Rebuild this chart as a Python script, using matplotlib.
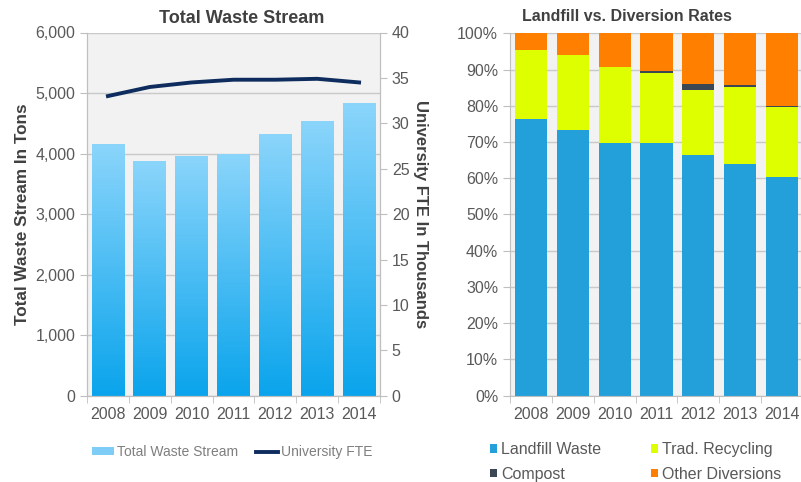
import matplotlib
matplotlib.use("Agg")
import matplotlib.pyplot as plt
import numpy as np
from matplotlib.patches import Patch
from matplotlib.lines import Line2D
from matplotlib.colors import LinearSegmentedColormap

plt.rcParams['font.family'] = ['Liberation Sans', 'DejaVu Sans']

years = ['2008', '2009', '2010', '2011', '2012', '2013', '2014']
waste_tons = [4160, 3880, 3965, 3990, 4320, 4545, 4835]
fte_thousands = [33.0, 34.0, 34.5, 34.8, 34.8, 34.9, 34.5]

landfill = [76.3, 73.3, 69.7, 69.7, 66.4, 63.8, 60.2]
recycling = [19.2, 20.8, 21.0, 19.4, 17.9, 21.3, 19.4]
compost = [0.0, 0.0, 0.1, 0.4, 1.6, 0.5, 0.4]
other = [round(100 - a - b - c, 1) for a, b, c in zip(landfill, recycling, compost)]

W, H = 801, 482
fig = plt.figure(figsize=(W / 100, H / 100), dpi=100)
fig.patch.set_facecolor('white')

TICK = '#595959'
TITLE = '#404040'
GRID = '#C9C9C9'
SPINE = '#BFBFBF'
BG = '#F2F2F2'
FS = 11.5

def px_axes(x0, y0, x1, y1):
    return fig.add_axes([x0 / W, 1 - y1 / H, (x1 - x0) / W, (y1 - y0) / H])

def style(ax):
    ax.set_facecolor(BG)
    ax.grid(axis='y', color=GRID, linewidth=1.0)
    ax.set_axisbelow(True)
    ax.spines['top'].set_visible(False)
    for s in ['left', 'right', 'bottom']:
        ax.spines[s].set_color(SPINE)
    x = np.arange(len(years))
    ax.set_xticks(x)
    ax.set_xticklabels(years)
    ax.set_xticks(np.arange(-0.5, len(years)), minor=True)
    ax.tick_params(axis='x', which='major', length=0, pad=8, labelsize=FS, colors=TICK)
    ax.tick_params(axis='x', which='minor', length=5, color=SPINE)
    ax.tick_params(axis='y', length=5, color=SPINE, labelsize=FS, labelcolor=TICK)
    ax.set_xlim(-0.5, len(years) - 0.5)

# ---------------- Left chart ----------------
ax1 = px_axes(87, 32.5, 380, 395.7)
style(ax1)
x = np.arange(len(years))
bars = ax1.bar(x, waste_tons, width=0.78, color='none', zorder=2)
cmap = LinearSegmentedColormap.from_list('g', ['#0AA4EC', '#8BD5FB'])
grad = np.linspace(0, 1, 256).reshape(-1, 1)
for b in bars:
    bx, by = b.get_x(), b.get_y()
    im = ax1.imshow(grad, extent=[bx, bx + b.get_width(), by, by + b.get_height()],
                    origin='lower', aspect='auto', cmap=cmap, zorder=2)
    im.set_clip_path(b)
ax1.set_xlim(-0.5, len(years) - 0.5)
ax1.set_ylim(0, 6000)
ax1.set_yticks(np.arange(0, 6001, 1000))
ax1.set_yticklabels([f'{v:,}' for v in range(0, 6001, 1000)])
ax1.set_title('Total Waste Stream', fontsize=13, fontweight='bold', color=TITLE, pad=7,
              x=(242 - 87) / (380 - 87))
ax1.set_ylabel('Total Waste Stream In Tons', fontsize=12.3, fontweight='bold', color=TITLE, labelpad=4)

ax1b = ax1.twinx()
ax1b.plot(x, fte_thousands, color='#0E2D5E', linewidth=2.8, zorder=5)
ax1b.set_ylim(0, 40)
ax1b.set_yticks(np.arange(0, 41, 5))
ax1b.tick_params(axis='y', length=5, color=SPINE, labelsize=FS, labelcolor=TICK)
ax1b.spines['top'].set_visible(False)
for s in ['left', 'right', 'bottom']:
    ax1b.spines[s].set_color(SPINE)
ax1b.set_ylabel('University FTE In Thousands', fontsize=12, fontweight='bold', color=TITLE,
                rotation=-90, labelpad=13)

handles1 = [Patch(facecolor='#7DCDF7', edgecolor='none'),
            Line2D([0], [0], color='#0E2D5E', linewidth=2.8)]
fig.legend(handles1, ['Total Waste Stream', 'University FTE'], loc='center left',
           bbox_to_anchor=(92 / W, 1 - 452 / H), ncol=2, frameon=False,
           borderaxespad=0, borderpad=0,
           fontsize=10, labelcolor='#7F7F7F', handlelength=1.6, handleheight=0.45,
           handletextpad=0.2, columnspacing=1.3)

# ---------------- Right chart ----------------
ax2 = px_axes(510, 33.3, 803, 395.5)
style(ax2)
ax2.spines['right'].set_visible(False)
c_land, c_rec, c_comp, c_oth = '#23A0DA', '#DDFF00', '#3B4752', '#FF8000'
bw = 0.77
ax2.bar(x, landfill, width=bw, color=c_land, zorder=2)
b1 = np.array(landfill)
ax2.bar(x, recycling, width=bw, bottom=b1, color=c_rec, zorder=2)
b2 = b1 + np.array(recycling)
ax2.bar(x, compost, width=bw, bottom=b2, color=c_comp, zorder=2)
b3 = b2 + np.array(compost)
ax2.bar(x, other, width=bw, bottom=b3, color=c_oth, zorder=2)
ax2.set_ylim(0, 100)
ax2.set_yticks(np.arange(0, 101, 10))
ax2.set_yticklabels([f'{v}%' for v in range(0, 101, 10)])
ax2.set_title('Landfill vs. Diversion Rates', fontsize=11.5, fontweight='bold', color=TITLE, pad=9,
              x=(627 - 510) / (803 - 510))

labels2 = ['Landfill Waste', 'Compost', 'Trad. Recycling', 'Other Diversions']
handles2 = [Patch(facecolor=c) for c in [c_land, c_comp, c_rec, c_oth]]
fig.legend(handles2, labels2,
           loc='upper left', bbox_to_anchor=(490 / W, 1 - 442 / H), ncol=2, frameon=False,
           borderaxespad=0, borderpad=0,
           fontsize=FS, labelcolor=TICK, handlelength=0.45, handleheight=0.45,
           handletextpad=0.25, columnspacing=3.1, labelspacing=0.6)

fig.savefig('out.png', dpi=100)
